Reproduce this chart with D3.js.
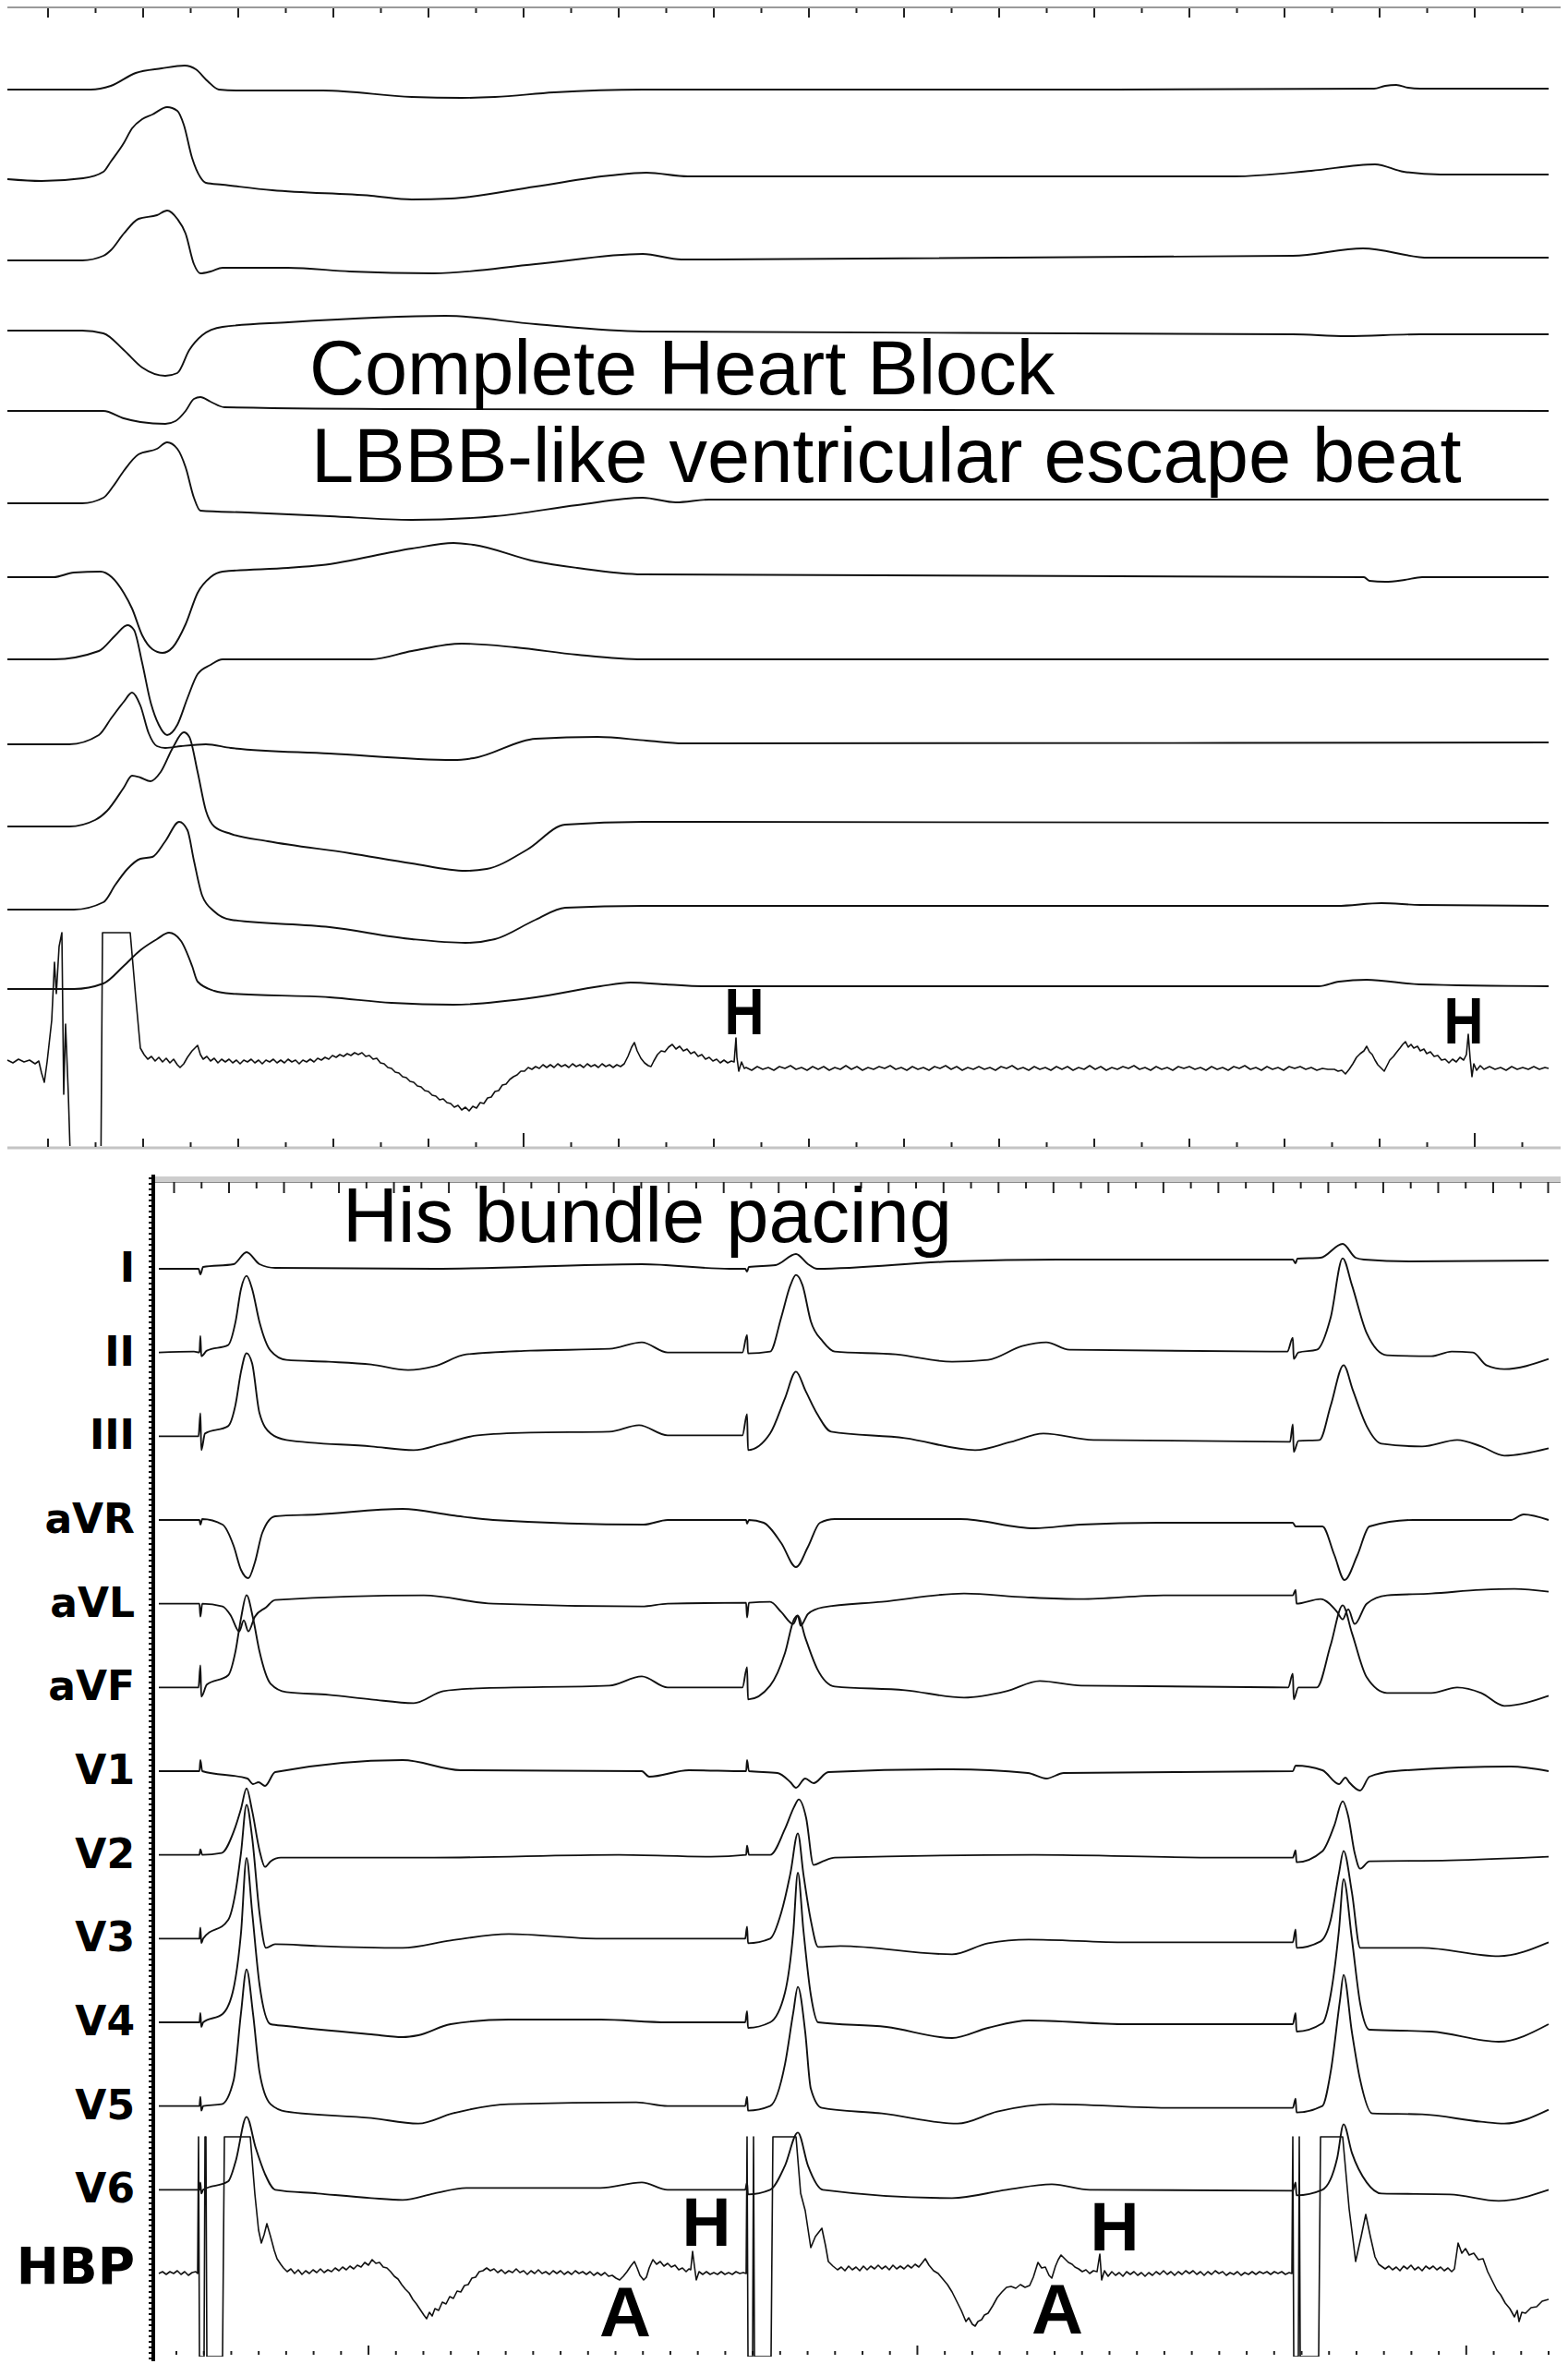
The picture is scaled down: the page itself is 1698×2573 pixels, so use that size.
<!DOCTYPE html>
<html><head><meta charset="utf-8">
<script src="https://cdn.jsdelivr.net/npm/d3@7/dist/d3.min.js"></script>
<style>
html,body{margin:0;padding:0;background:#fff;}
svg{display:block;}
</style></head><body>
<svg id="chart" width="1698" height="2573"></svg>
<script>
// ===================== DATA =====================
// time in ms (sweep units), amplitude in mV

// ---- Top panel: complete heart block, escape beat ----
const escapeLeads = ["I","II","III","aVR","aVL","aVF","V1","V2","V3","V4","V5","V6","His"];

const escI = [[0,0],[90,0],[112,0.04],[139,0.18],[167,0.23],[192,0.26],[204,0.22],[217,0.09],[229,0],[252,-0.01],[342,-0.01],[438,-0.08],[492,-0.09],[528,-0.08],[592,-0.03],[688,0],[1100,0],[1480,0.01],[1492,0.04],[1504,0.05],[1517,0.02],[1530,0.01],[1669,0.01]];
const escII = [[0,0],[37,-0.02],[82,0.01],[104,0.08],[112,0.19],[126,0.39],[135,0.55],[146,0.65],[157,0.70],[173,0.78],[184,0.74],[191,0.59],[200,0.23],[209,0.02],[215,-0.04],[233,-0.06],[287,-0.12],[394,-0.18],[438,-0.22],[480,-0.21],[572,-0.08],[653,0.04],[692,0.07],[737,0.03],[1328,0.03],[1412,0.09],[1481,0.16],[1512,0.08],[1552,0.05],[1669,0.05]];
const escIII = [[0,0],[81,0],[104,0.05],[112,0.11],[126,0.29],[142,0.45],[162,0.49],[173,0.54],[184,0.45],[193,0.29],[202,-0.04],[209,-0.14],[220,-0.12],[233,-0.08],[304,-0.08],[371,-0.12],[461,-0.14],[572,-0.04],[688,0.07],[730,0.01],[1392,0.05],[1468,0.13],[1539,0.03],[1669,0.03]];
const escaVR = [[0,0],[81,0],[104,-0.03],[126,-0.21],[146,-0.40],[171,-0.49],[184,-0.46],[197,-0.21],[211,-0.05],[233,0.04],[304,0.09],[474,0.16],[572,0.07],[688,-0.01],[1392,-0.04],[1450,-0.06],[1530,-0.04],[1669,-0.04]];
const escaVL = [[0,0],[104,0],[126,-0.08],[144,-0.12],[171,-0.14],[182,-0.11],[193,0],[202,0.13],[209,0.15],[220,0.10],[235,0.04],[438,0.02],[1669,0]];
const escaVF = [[0,0],[81,0],[104,0.06],[115,0.19],[126,0.35],[142,0.53],[162,0.59],[173,0.66],[184,0.59],[193,0.39],[202,0.06],[209,-0.08],[260,-0.10],[349,-0.14],[438,-0.18],[528,-0.14],[617,-0.02],[688,0.06],[724,0.01],[760,0.04],[1669,0.04]];
const escV1 = [[0,0],[50,0],[72,0.05],[101,0.06],[113,0],[126,-0.17],[135,-0.34],[146,-0.63],[157,-0.78],[168,-0.82],[179,-0.76],[193,-0.51],[206,-0.17],[220,0],[233,0.06],[304,0.10],[340,0.13],[438,0.31],[483,0.37],[505,0.35],[572,0.17],[617,0.10],[688,0.03],[1469,0],[1475,-0.04],[1492,-0.05],[1513,-0.03],[1532,0],[1669,0]];
const escV2 = [[0,0],[50,0],[99,0.09],[117,0.26],[130,0.37],[137,0.32],[146,-0.04],[155,-0.46],[164,-0.71],[173,-0.82],[184,-0.71],[195,-0.42],[206,-0.16],[220,-0.06],[233,0],[394,0],[438,0.09],[492,0.17],[550,0.13],[617,0.05],[688,0],[1669,0]];
const escV3 = [[0,0],[67,0],[99,0.10],[113,0.29],[126,0.46],[135,0.56],[144,0.42],[153,0.12],[162,-0.02],[171,-0.04],[188,-0.02],[215,0],[242,-0.04],[349,-0.10],[483,-0.17],[505,-0.15],[572,0.06],[639,0.08],[692,0.04],[732,0.01],[1669,0.02]];
const escV4 = [[0,0],[67,0],[95,0.07],[108,0.17],[126,0.42],[135,0.55],[144,0.53],[155,0.49],[166,0.59],[179,0.85],[191,1.02],[197,0.97],[206,0.59],[215,0.17],[224,0],[242,-0.08],[282,-0.16],[371,-0.29],[438,-0.40],[496,-0.48],[519,-0.46],[563,-0.25],[604,0.02],[688,0.05],[1669,0.04]];
const escV5 = [[0,0],[72,0],[104,0.08],[117,0.27],[130,0.44],[144,0.55],[157,0.57],[171,0.74],[186,0.95],[195,0.86],[202,0.53],[211,0.15],[224,-0.02],[242,-0.11],[349,-0.19],[438,-0.32],[496,-0.36],[528,-0.32],[572,-0.11],[604,0.02],[688,0.04],[1440,0.04],[1488,0.07],[1530,0.05],[1669,0.04]];
const escV6 = [[0,0],[72,0],[104,0.06],[126,0.25],[144,0.42],[162,0.54],[175,0.61],[188,0.52],[200,0.25],[206,0.08],[224,-0.02],[242,-0.05],[349,-0.09],[416,-0.15],[483,-0.17],[572,-0.09],[642,0.03],[675,0.07],[713,0.05],[752,0.03],[1420,0.03],[1442,0.08],[1472,0.10],[1529,0.05],[1669,0.03]];
const escHis = [[0,0.02],[6,-0.01],[12,0.03],[18,0],[24,0.02],[30,-0.02],[34,0.01],[37,-0.12],[40,-0.22],[43,0],[48,0.45],[51,1.08],[53,0.74],[56,1.25],[59,1.40],[61,-0.35],[63,0.41],[66,-0.35],[68,-1.0],[69,-1.5],[101,-1.5],[103,1.40],[133,1.40],[139,0.70],[144,0.15],[148,0.08],
[152,0.03],[156,0.06],[160,0.01],[164,0.05],[168,0],[172,0.04],[176,-0.01],[180,0.03],[184,-0.03],[187,-0.06],[191,-0.02],[195,0.05],[200,0.12],[206,0.18],[209,0.08],[212,0.03],[216,0.06],[220,0.01],[224,0.04],[228,-0.01],[232,0.03],[236,0],[240,0.03],[244,-0.01],[248,0.02],[252,-0.02],[256,0.02],[260,0],[264,0.03],[268,-0.01],[272,0.02],[276,-0.02],[280,0.02],[284,0],[288,0.03],[292,-0.01],[296,0.02],[300,-0.01],[304,0.03],[308,0],[312,0.02],[316,-0.02],[320,0.02],[324,0],[328,0.03],[332,0],[336,0.04],[340,0.02],[344,0.05],[348,0.03],[352,0.07],[356,0.05],[360,0.08],[364,0.06],[368,0.09],[372,0.07],[376,0.10],[380,0.08],[384,0.10],[388,0.06],[392,0.07],[396,0.03],[400,0.04],[404,-0.01],[408,-0.02],[412,-0.06],[416,-0.07],[420,-0.11],[424,-0.12],[428,-0.16],[432,-0.17],[436,-0.21],[440,-0.22],[444,-0.26],[448,-0.27],[452,-0.31],[456,-0.32],[460,-0.36],[464,-0.37],[468,-0.41],[472,-0.40],[476,-0.44],[480,-0.45],[484,-0.49],[488,-0.47],[492,-0.52],[496,-0.49],[500,-0.53],[504,-0.48],[508,-0.50],[512,-0.44],[516,-0.45],[520,-0.39],[524,-0.38],[528,-0.32],[532,-0.31],[536,-0.25],[540,-0.24],[544,-0.19],[548,-0.16],[552,-0.14],[556,-0.10],[560,-0.10],[564,-0.06],[568,-0.08],[572,-0.05],[576,-0.07],[580,-0.03],[584,-0.06],[588,-0.03],[592,-0.06],[596,-0.02],[600,-0.05],[604,-0.03],[608,-0.06],[612,-0.02],[616,-0.05],[620,-0.03],[624,-0.06],[628,-0.02],[632,-0.05],[636,-0.03],[640,-0.06],[644,-0.02],[648,-0.05],[652,-0.03],[656,-0.06],[660,-0.03],[664,-0.05],[668,-0.02],[672,0.06],[676,0.16],[679,0.21],[682,0.12],[686,0.04],[690,-0.01],[694,-0.04],[697,-0.05],[700,0.01],[704,0.08],[708,0.12],[712,0.11],[716,0.16],[720,0.19],[724,0.14],[728,0.17],[732,0.12],[736,0.14],[740,0.09],[744,0.11],[748,0.06],[752,0.08],[756,0.03],[760,0.05],[764,0.01],[768,0.03],[772,-0.01],[776,0.02],[780,-0.01],[784,0.01],[787,0],[789,0.26],[790,0.05],[792,-0.10],[795,0],[798,-0.07],
[800,-0.06],[806,-0.09],[812,-0.05],[818,-0.08],[824,-0.06],[830,-0.09],[836,-0.05],[842,-0.07],[848,-0.04],[854,-0.08],[860,-0.06],[866,-0.09],[872,-0.05],[878,-0.08],[884,-0.05],[890,-0.09],[896,-0.06],[902,-0.08],[908,-0.04],[914,-0.08],[920,-0.05],[926,-0.09],[932,-0.06],[938,-0.08],[944,-0.05],[950,-0.07],[956,-0.04],[962,-0.08],[968,-0.06],[974,-0.09],[980,-0.05],[986,-0.08],[992,-0.06],[998,-0.09],[1004,-0.05],[1010,-0.07],[1016,-0.04],[1022,-0.08],[1028,-0.05],[1034,-0.09],[1040,-0.06],[1046,-0.08],[1052,-0.05],[1058,-0.08],[1064,-0.06],[1070,-0.09],[1076,-0.05],[1082,-0.07],[1088,-0.04],[1094,-0.08],[1100,-0.06],[1106,-0.09],[1112,-0.05],[1118,-0.08],[1124,-0.06],[1130,-0.09],[1136,-0.05],[1142,-0.08],[1148,-0.05],[1154,-0.09],[1160,-0.06],[1166,-0.08],[1172,-0.04],[1178,-0.08],[1184,-0.05],[1190,-0.09],[1196,-0.06],[1202,-0.08],[1208,-0.05],[1214,-0.07],[1220,-0.04],[1226,-0.08],[1232,-0.06],[1238,-0.09],[1244,-0.05],[1250,-0.08],[1256,-0.06],[1262,-0.09],[1268,-0.05],[1274,-0.07],[1280,-0.05],[1286,-0.08],[1292,-0.06],[1298,-0.09],[1304,-0.05],[1310,-0.08],[1316,-0.06],[1322,-0.09],[1328,-0.05],[1334,-0.07],[1340,-0.04],[1346,-0.08],[1352,-0.06],[1358,-0.09],[1364,-0.05],[1370,-0.08],[1376,-0.06],[1382,-0.09],[1388,-0.05],[1394,-0.07],[1400,-0.05],[1406,-0.08],[1412,-0.06],[1418,-0.09],[1424,-0.07],[1430,-0.08],
[1437,-0.08],[1441,-0.10],[1445,-0.09],[1449,-0.13],[1453,-0.08],[1457,-0.02],[1461,0.05],[1465,0.09],[1469,0.12],[1472,0.17],[1475,0.11],[1478,0.08],[1481,0.02],[1484,-0.03],[1487,-0.06],[1491,-0.10],[1494,-0.04],[1497,0.02],[1501,0.06],[1504,0.10],[1508,0.15],[1511,0.19],[1514,0.22],[1517,0.16],[1520,0.19],[1523,0.15],[1527,0.17],[1530,0.12],[1534,0.14],[1537,0.09],[1541,0.11],[1545,0.06],[1549,0.07],[1553,0.02],[1557,0.03],[1561,-0.01],[1565,0.03],[1569,0],[1573,0.05],[1577,0.02],[1580,0.08],[1582,0.30],[1584,0.04],[1586,-0.16],[1588,-0.02],[1591,-0.09],[1595,-0.04],[1599,-0.08],[1605,-0.05],[1611,-0.08],[1617,-0.06],[1623,-0.09],[1629,-0.05],[1635,-0.08],[1641,-0.06],[1647,-0.08],[1653,-0.05],[1659,-0.08],[1665,-0.06],[1669,-0.07]];

// ---- Bottom panel: His bundle pacing ----
const pacedLeads = ["I","II","III","aVR","aVL","aVF","V1","V2","V3","V4","V5","V6","HBP"];

const pacI = [[2,0],[45,0],[47,-0.06],[50,0.02],[83,0.05],[97,0.18],[111,0.05],[128,0.01],[300,0],[525,0.05],[620,0],[637,0],[639,-0.03],[641,0.02],[670,0.04],[692,0.16],[705,0.05],[715,0],[861,0.08],[975,0.10],[1230,0.10],[1233,0.06],[1235,0.11],[1260,0.12],[1284,0.27],[1298,0.12],[1307,0.10],[1357,0.08],[1507,0.09]];
const pacII = [[2,0],[40,0.01],[46,0],[47,0.18],[48,-0.04],[54,0.02],[77,0.08],[85,0.33],[91,0.69],[97,0.83],[103,0.69],[111,0.33],[123,0.02],[140,-0.08],[186,-0.10],[232,-0.13],[272,-0.19],[300,-0.15],[335,-0.02],[404,0.02],[490,0.04],[525,0.11],[553,0],[634,0],[639,0.19],[640,-0.01],[664,0.01],[676,0.38],[686,0.73],[692,0.84],[699,0.73],[708,0.34],[721,0.12],[734,0.01],[800,-0.02],[861,-0.10],[900,-0.08],[937,0.07],[963,0.11],[988,0.03],[1224,0.01],[1230,0.16],[1231,-0.07],[1236,0],[1256,0.03],[1271,0.38],[1284,1.02],[1294,0.73],[1310,0.21],[1332,-0.03],[1380,-0.04],[1402,0.01],[1425,0],[1440,-0.14],[1459,-0.18],[1507,-0.07]];
const pacIII = [[2,0],[45,0],[47,0.25],[48,-0.15],[52,0.03],[77,0.11],[85,0.34],[91,0.70],[97,0.90],[103,0.79],[111,0.25],[123,0.03],[140,-0.04],[232,-0.11],[278,-0.15],[310,-0.08],[347,0.01],[404,0.04],[490,0.05],[522,0.12],[553,0.01],[634,0.01],[639,0.24],[640,-0.15],[664,0.03],[680,0.41],[692,0.70],[702,0.50],[715,0.24],[730,0.05],[810,-0.02],[886,-0.15],[925,-0.06],[960,0.03],[1014,-0.04],[1227,-0.06],[1230,0.13],[1231,-0.17],[1236,-0.05],[1259,-0.04],[1271,0.33],[1285,0.77],[1295,0.50],[1310,0.11],[1326,-0.08],[1370,-0.11],[1408,-0.04],[1434,-0.11],[1459,-0.21],[1507,-0.13]];
const pacaVR = [[2,0],[46,0],[47,-0.05],[49,0.01],[71,-0.05],[83,-0.28],[91,-0.54],[99,-0.63],[106,-0.46],[114,-0.14],[128,0.04],[174,0.06],[266,0.12],[320,0.05],[364,0],[527,-0.05],[553,0],[638,0],[639,-0.04],[641,0],[657,-0.03],[676,-0.25],[692,-0.51],[705,-0.29],[718,-0.03],[734,0.01],[870,0.01],[950,-0.09],[1000,-0.05],[1084,-0.03],[1230,-0.03],[1233,-0.07],[1262,-0.07],[1275,-0.38],[1286,-0.65],[1300,-0.38],[1313,-0.07],[1360,0],[1466,0],[1480,0.06],[1507,0]];
const pacaVL = [[2,0],[46,0],[47,-0.14],[49,0],[71,-0.03],[80,-0.13],[89,-0.30],[94,-0.18],[99,-0.30],[106,-0.14],[118,-0.04],[128,0.04],[289,0.09],[364,0],[525,-0.03],[553,0],[638,0.01],[639,-0.15],[641,0.01],[664,0.02],[676,-0.09],[689,-0.22],[694,-0.13],[697,-0.24],[705,-0.11],[721,-0.04],[785,0.02],[874,0.11],[940,0.07],[1000,0.05],[1090,0.09],[1230,0.09],[1233,0.15],[1234,0.0],[1260,0.05],[1278,-0.09],[1284,-0.17],[1290,-0.06],[1297,-0.22],[1310,0],[1332,0.09],[1380,0.11],[1434,0.15],[1470,0.16],[1507,0.13]];
const pacaVF = [[2,0],[45,0],[47,0.24],[48,-0.10],[54,0.03],[77,0.13],[85,0.39],[91,0.75],[97,1.00],[104,0.75],[111,0.39],[123,0.04],[140,-0.05],[186,-0.08],[232,-0.13],[278,-0.17],[310,-0.04],[347,-0.01],[490,0.02],[525,0.12],[553,0],[634,0],[639,0.22],[640,-0.13],[664,0.02],[680,0.37],[690,0.74],[694,0.78],[702,0.54],[715,0.20],[734,0.01],[810,-0.03],[874,-0.11],[920,-0.04],[956,0.07],[1001,0.02],[1225,0],[1230,0.15],[1231,-0.13],[1236,0],[1256,0],[1271,0.46],[1284,0.89],[1294,0.59],[1310,0.11],[1332,-0.06],[1380,-0.06],[1408,0],[1434,-0.06],[1459,-0.20],[1507,-0.09]];
const pacV1 = [[2,0],[46,0],[47,0.12],[49,0],[98,-0.08],[104,-0.14],[110,-0.12],[117,-0.16],[128,-0.01],[266,0.12],[329,0.01],[525,0],[533,-0.06],[576,0.01],[638,0],[639,0.12],[641,0],[672,-0.02],[686,-0.12],[692,-0.18],[702,-0.08],[711,-0.13],[727,-0.01],[861,0.02],[943,-0.02],[963,-0.08],[982,-0.02],[1230,0],[1233,0.06],[1262,0.01],[1280,-0.14],[1287,-0.07],[1291,-0.12],[1303,-0.21],[1313,-0.06],[1340,0],[1466,0.05],[1507,0]];
const pacV2 = [[2,0],[46,0],[47,0.06],[49,0],[70,0.02],[83,0.25],[91,0.50],[97,0.72],[103,0.48],[111,0.05],[117,-0.13],[123,-0.07],[134,-0.03],[300,-0.03],[500,0],[600,-0.02],[638,0],[639,0.10],[641,0],[664,0],[680,0.28],[690,0.52],[695,0.60],[703,0.40],[711,-0.11],[721,-0.07],[734,-0.03],[950,0],[1154,-0.03],[1230,-0.03],[1233,0.05],[1234,-0.08],[1262,0.04],[1275,0.32],[1284,0.58],[1290,0.42],[1297,0.02],[1303,-0.15],[1313,-0.07],[1400,-0.06],[1507,-0.02]];
const pacV3 = [[2,0],[46,0],[47,0.12],[48,-0.05],[50,0],[77,0.20],[85,0.50],[91,0.93],[97,1.45],[103,1.10],[111,0.28],[118,-0.10],[128,-0.06],[174,-0.08],[266,-0.10],[318,-0.02],[381,0.05],[480,0],[637,0],[639,0.13],[640,-0.05],[664,0],[676,0.28],[686,0.71],[694,1.14],[700,0.70],[708,0.20],[716,-0.09],[740,-0.08],[861,-0.17],[900,-0.05],[944,-0.01],[1050,-0.04],[1230,-0.04],[1233,0.10],[1234,-0.10],[1260,-0.03],[1271,0.20],[1280,0.71],[1285,0.95],[1294,0.50],[1303,-0.10],[1370,-0.10],[1453,-0.19],[1507,-0.04]];
const pacV4 = [[2,0],[46,0],[47,0.10],[48,-0.05],[50,0],[71,0.09],[83,0.37],[91,0.97],[97,1.78],[103,1.20],[111,0.41],[123,-0.02],[140,-0.04],[232,-0.13],[266,-0.16],[283,-0.14],[318,-0.02],[381,0.03],[480,0.03],[553,0],[637,0],[639,0.12],[640,-0.06],[664,0],[680,0.32],[689,0.97],[694,1.62],[700,1.00],[708,0.30],[716,0],[790,-0.05],[861,-0.17],[900,-0.06],[944,0.02],[1050,-0.02],[1230,-0.02],[1233,0.10],[1234,-0.10],[1262,-0.01],[1271,0.30],[1280,1.00],[1285,1.55],[1294,0.90],[1303,0.20],[1313,-0.08],[1380,-0.10],[1453,-0.21],[1507,-0.02]];
const pacV5 = [[2,0],[46,0],[47,0.10],[48,-0.05],[50,0],[70,0.02],[83,0.28],[91,1.01],[97,1.48],[104,1.00],[111,0.37],[123,0.02],[140,-0.06],[232,-0.13],[283,-0.19],[320,-0.08],[381,0.02],[519,0.04],[553,0],[637,0],[639,0.10],[640,-0.05],[664,0],[680,0.45],[689,1.01],[694,1.29],[702,0.80],[708,0.19],[720,-0.02],[785,-0.08],[867,-0.19],[910,-0.06],[969,0.02],[1100,-0.02],[1230,-0.02],[1233,0.08],[1234,-0.07],[1262,0],[1271,0.37],[1281,1.14],[1285,1.42],[1294,0.80],[1303,0.28],[1316,-0.08],[1370,-0.09],[1434,-0.17],[1459,-0.19],[1507,-0.04]];
const pacV6 = [[2,0],[46,0],[47,0.08],[48,-0.04],[50,0],[77,0.09],[85,0.30],[97,0.79],[107,0.45],[117,0.17],[128,0],[174,-0.04],[232,-0.09],[266,-0.11],[300,-0.04],[335,0.02],[480,0.02],[525,0.08],[553,0],[637,0],[639,0.08],[640,-0.05],[664,0],[680,0.26],[694,0.62],[705,0.26],[721,0],[861,-0.09],[920,0],[969,0.06],[1010,0],[1230,-0.01],[1233,0.08],[1234,-0.06],[1262,0],[1278,0.34],[1285,0.71],[1294,0.40],[1310,0.08],[1326,-0.04],[1400,-0.05],[1453,-0.12],[1507,0]];
const pacHBP = [[2,0],[6,0.02],[10,-0.01],[14,0.02],[18,0],[22,0.03],[26,-0.01],[30,0.02],[34,-0.02],[38,0.01],[42,0.02],[44,0],
[45,1.48],[46,-0.9],[51,-0.9],[52,1.48],[53,1.48],[54,-0.9],[71,-0.9],[73,1.48],[101,1.48],
[106,0.86],[110,0.47],[113,0.33],[116,0.42],[119,0.54],[123,0.40],[127,0.25],[130,0.16],[134,0.10],[137,0.06],
[141,0.02],[145,0.05],[149,0],[153,0.04],[157,-0.01],[161,0.03],[165,0],[169,0.04],[173,0.01],[177,0.05],[181,0.01],[185,0.04],[189,0.02],[193,0.06],[197,0.03],[201,0.07],[205,0.04],[209,0.08],[213,0.05],[217,0.09],[221,0.07],[225,0.12],[229,0.09],[233,0.15],[237,0.11],[241,0.12],[245,0.07],[249,0.06],[253,0.02],[257,-0.03],[261,-0.06],[265,-0.12],[269,-0.17],[273,-0.21],[277,-0.28],[281,-0.33],[285,-0.39],[289,-0.45],[292,-0.49],[295,-0.42],[298,-0.46],[301,-0.38],[305,-0.40],[309,-0.31],[313,-0.33],[317,-0.25],[321,-0.27],[325,-0.19],[329,-0.20],[333,-0.13],[337,-0.12],[341,-0.05],[345,-0.04],[349,0.02],[353,0.03],[357,0.06],[361,0.03],[365,0.05],[369,0.01],[373,0.04],[377,0],[381,0.03],[385,0.01],[389,0.05],[393,0.01],[397,0.03],[401,-0.01],[405,0.03],[409,0],[413,0.04],[417,0],[421,0.02],[425,-0.01],[429,0.03],[433,0],[437,0.03],[441,-0.01],[445,0.02],[449,-0.01],[453,0.03],[457,0],[461,0.02],[465,-0.01],[469,0.02],[473,-0.02],[477,0.01],[481,-0.02],[485,0.01],[489,-0.03],[493,-0.02],[497,-0.05],[501,-0.07],[505,-0.03],[509,0.02],[513,0.08],[517,0.13],[520,0.06],[523,-0.02],[527,-0.07],[530,-0.04],[533,0.06],[537,0.15],[541,0.10],[545,0.13],[549,0.08],[553,0.11],[557,0.07],[561,0.09],[565,0.04],[569,0.06],[573,0.02],[576,0.05],[578,0.04],[580,0.24],[582,0.08],[584,-0.07],[587,0.02],[591,-0.01],[595,0.02],[599,-0.01],[603,0.01],[607,-0.01],[611,0.02],[615,-0.01],[619,0.01],[623,-0.01],[627,0.02],[631,0],[635,0.01],[638,0],
[639,1.48],[640,-0.9],[645,-0.9],[646,1.48],[647,-0.9],[665,-0.9],[667,1.48],[692,1.48],
[697,0.87],[702,0.68],[708,0.28],[713,0.40],[720,0.49],[724,0.30],[727,0.13],[732,0.08],[737,0.04],
[741,0.07],[745,0.03],[749,0.08],[753,0.04],[757,0.07],[761,0.03],[765,0.08],[769,0.04],[773,0.08],[777,0.05],[781,0.09],[785,0.05],[789,0.08],[793,0.04],[797,0.09],[801,0.05],[805,0.08],[809,0.05],[813,0.09],[817,0.06],[821,0.10],[825,0.07],[829,0.12],[832,0.16],[836,0.09],[841,0.03],[846,0],[851,-0.06],[856,-0.12],[861,-0.20],[866,-0.30],[871,-0.40],[876,-0.52],[879,-0.48],[883,-0.55],[886,-0.57],[889,-0.52],[893,-0.50],[896,-0.45],[900,-0.43],[905,-0.35],[910,-0.26],[915,-0.20],[920,-0.15],[925,-0.14],[930,-0.16],[935,-0.12],[940,-0.15],[945,-0.13],[949,-0.04],[954,0.12],[958,0.06],[962,0.07],[966,-0.02],[969,-0.05],[973,0.08],[976,0.15],[979,0.20],[983,0.16],[987,0.12],[991,0.10],[994,0.07],[998,0.05],[1002,0.02],[1006,0.04],[1010,0],[1014,0.03],[1018,0.02],[1021,0.21],[1023,-0.07],
[1026,0.03],[1030,-0.03],[1034,0.02],[1038,-0.02],[1042,0.01],[1046,-0.03],[1050,0.02],[1054,-0.01],[1058,0.02],[1062,-0.02],[1066,0.01],[1070,-0.03],[1074,0.01],[1078,-0.02],[1082,0.02],[1086,-0.01],[1090,0.03],[1094,-0.01],[1098,0.02],[1102,-0.02],[1106,0.02],[1110,-0.01],[1114,0.03],[1118,0],[1122,0.03],[1126,-0.01],[1130,0.02],[1134,-0.02],[1138,0.02],[1142,-0.01],[1146,0.03],[1150,0],[1154,0.02],[1158,-0.02],[1162,0.01],[1166,-0.01],[1170,0.02],[1174,-0.02],[1178,0.01],[1182,-0.01],[1186,0.02],[1190,-0.01],[1194,0.02],[1198,0],[1202,0.02],[1206,-0.01],[1210,0.02],[1214,0],[1218,0.02],[1222,-0.01],[1226,0.01],
[1229,0],[1230,1.48],[1231,-0.9],[1236,-0.9],[1237,1.48],[1238,-0.9],[1258,-0.9],[1260,1.48],[1284,1.48],
[1291,0.70],[1296,0.30],[1298,0.13],[1304,0.40],[1309,0.64],[1314,0.40],[1319,0.18],[1323,0.10],[1330,0.05],
[1334,0.08],[1338,0.04],[1342,0.07],[1346,0.03],[1350,0.08],[1354,0.05],[1358,0.09],[1362,0.04],[1366,0.07],[1370,0.03],[1374,0.08],[1378,0.05],[1382,0.08],[1386,0.04],[1390,0.07],[1394,0.03],[1398,0.06],[1402,0.02],[1405,0.05],
[1409,0.33],[1413,0.22],[1417,0.27],[1421,0.20],[1426,0.22],[1431,0.15],[1436,0.16],[1441,0.02],[1446,-0.08],[1451,-0.18],[1455,-0.23],[1460,-0.32],[1465,-0.38],[1470,-0.47],[1473,-0.40],[1475,-0.52],[1478,-0.42],[1482,-0.43],[1488,-0.37],[1494,-0.36],[1500,-0.30],[1507,-0.28]];

// annotation marks (time of the labelled deflection)
const escapeHMarks = [789, 1582];
const pacedHMarks = [580, 1021];
const pacedAMarks = [512, 962];

// tick grids (ms)
const topTickStart = 44, topTickStep = 51.5, topTickCount = 32;
const botTickStart = 18.5, botTickStep = 29.76, botTickCount = 51;
const botDotStart = 21, botDotStep = 29.72, botDotCount = 51;

// ===================== DRAWING =====================
const escapeSeries = [escI, escII, escIII, escaVR, escaVL, escaVF, escV1, escV2, escV3, escV4, escV5, escV6, escHis];
const pacedSeries = [pacI, pacII, pacIII, pacaVR, pacaVL, pacaVF, pacV1, pacV2, pacV3, pacV4, pacV5, pacV6, pacHBP];

const svg = d3.select("#chart");
const W = 1698;
const INK = "#111";

// scales
const xTop = d3.scaleLinear().domain([0, 1669]).range([8, 1677]);
const xBot = d3.scaleLinear().domain([0, 1507]).range([170, 1677]);
const amp = d3.scaleLinear().domain([0, 1]).range([0, -100]); // 100 px per mV
const topRowY = [97, 194, 282, 358, 445, 545, 625, 714, 806, 895, 985, 1071, 1150]; // layout: row baselines
const yTopRow = d3.scaleOrdinal().domain(escapeLeads).range(topRowY);
const yBotRow = d3.scalePoint().domain(pacedLeads).range([1374, 2462]);

const defs = svg.append("defs");
defs.append("clipPath").attr("id","clipTop").append("rect").attr("x",0).attr("y",9).attr("width",W).attr("height",1232);
defs.append("clipPath").attr("id","clipBot").append("rect").attr("x",167).attr("y",1280).attr("width",W).attr("height",1272);

// ---------- top panel axes ----------
const topAx = svg.append("g");
topAx.append("line").attr("x1",8).attr("x2",1690).attr("y1",8).attr("y2",8).attr("stroke","#9a9a9a").attr("stroke-width",2);
topAx.append("line").attr("x1",8).attr("x2",1690).attr("y1",1243).attr("y2",1243).attr("stroke","#c4c4c4").attr("stroke-width",3);
const topTicks = d3.range(topTickCount).map(k => ({t: topTickStart + k*topTickStep, k}));
topAx.selectAll(".tt").data(topTicks).join("line")
  .attr("x1", d=>xTop(d.t)).attr("x2", d=>xTop(d.t))
  .attr("y1", 9).attr("y2", d=> d.k%2===0 ? 19 : 14)
  .attr("stroke","#222").attr("stroke-width",2);
topAx.selectAll(".tb").data(topTicks).join("line")
  .attr("x1", d=>xTop(d.t)).attr("x2", d=>xTop(d.t))
  .attr("y1", 1242).attr("y2", d=> d.k%20===10 ? 1227 : (d.k%2===0 ? 1233 : 1237))
  .attr("stroke","#222").attr("stroke-width",2);

// ---------- bottom panel axes ----------
const botAx = svg.append("g");
botAx.append("line").attr("x1",166).attr("x2",1690).attr("y1",1277).attr("y2",1277).attr("stroke","#cdcdcd").attr("stroke-width",6);
botAx.append("line").attr("x1",166).attr("x2",1690).attr("y1",1280.5).attr("y2",1280.5).attr("stroke","#8a8a8a").attr("stroke-width",1);
const botTicks = d3.range(botTickCount).map(k => ({t: botTickStart + k*botTickStep, k}));
botAx.selectAll(".bt").data(botTicks.filter(d=>xBot(d.t)<1690)).join("line")
  .attr("x1", d=>xBot(d.t)).attr("x2", d=>xBot(d.t))
  .attr("y1", 1280).attr("y2", d=> d.k%2===0 ? 1292 : 1287)
  .attr("stroke","#222").attr("stroke-width",2);
const botDots = d3.range(botDotCount).map(k => ({t: botDotStart + k*botDotStep, k}));
botAx.selectAll(".bd").data(botDots.filter(d=>xBot(d.t)<1690)).join("line")
  .attr("x1", d=>xBot(d.t)).attr("x2", d=>xBot(d.t))
  .attr("y1", d=> (d.k-7)%20===0 ? 2540 : 2546).attr("y2", 2550)
  .attr("stroke","#222").attr("stroke-width",2);
// left ruler
botAx.append("line").attr("x1",166).attr("x2",166).attr("y1",1272).attr("y2",2557).attr("stroke","#000").attr("stroke-width",4);
botAx.selectAll(".rl").data(d3.range(1276, 2556, 6)).join("line")
  .attr("x1",161).attr("x2",165).attr("y1",d=>d).attr("y2",d=>d)
  .attr("stroke","#000").attr("stroke-width",2);

// ---------- traces ----------
function lineGen(x, y0, curve){
  return d3.line().x(d=>x(d[0])).y(d=>y0 + amp(d[1])).curve(curve);
}
const gTop = svg.append("g").attr("clip-path","url(#clipTop)");
escapeSeries.forEach((s,i)=>{
  const name = escapeLeads[i];
  const isHis = name === "His";
  gTop.append("path").datum(s)
    .attr("d", lineGen(xTop, yTopRow(name), isHis ? d3.curveLinear : d3.curveMonotoneX))
    .attr("fill","none").attr("stroke",INK).attr("stroke-width", isHis ? 1.6 : 1.9)
    .attr("stroke-linejoin","round");
});
const gBot = svg.append("g").attr("clip-path","url(#clipBot)");
pacedSeries.forEach((s,i)=>{
  const name = pacedLeads[i];
  const isHis = name === "HBP";
  gBot.append("path").datum(s)
    .attr("d", lineGen(xBot, yBotRow(name), isHis ? d3.curveLinear : d3.curveMonotoneX))
    .attr("fill","none").attr("stroke",INK).attr("stroke-width", isHis ? 1.6 : 1.9)
    .attr("stroke-linejoin","round");
});

// ---------- lead labels ----------
svg.append("g").selectAll("text").data(pacedLeads).join("text")
  .attr("x",146).attr("y", d=> yBotRow(d) + (d==="HBP" ? 11 : 14))
  .attr("text-anchor","end")
  .attr("font-family","'DejaVu Sans', sans-serif").attr("font-weight","bold")
  .attr("font-size", d=> d==="HBP" ? 55 : 44).attr("fill","#000")
  .text(d=>d);

// ---------- titles ----------
const titleFont = "'Liberation Sans', Arial, sans-serif";
svg.append("text").attr("x",335).attr("y",427).attr("font-family",titleFont).attr("font-size",83).attr("fill","#000").text("Complete Heart Block");
svg.append("text").attr("x",337).attr("y",522).attr("font-family",titleFont).attr("font-size",83).attr("fill","#000").text("LBBB-like ventricular escape beat");
svg.append("text").attr("x",371).attr("y",1345).attr("font-family",titleFont).attr("font-size",83).attr("fill","#000").text("His bundle pacing");

// ---------- H / A annotations ----------
const ann = svg.append("g").attr("font-family",titleFont).attr("font-weight","bold").attr("fill","#000").attr("text-anchor","middle");
const hTopOffset = [9, -5], hBotOffset = [15, 16], aBotOffset = [-5, 13];
ann.selectAll(".h1").data(escapeHMarks).join("text")
  .attr("x", (d,i)=>xTop(d)+hTopOffset[i]).attr("y", (d,i)=> i===0 ? 1120 : 1130)
  .attr("font-size",70).attr("textLength",43).attr("lengthAdjust","spacingAndGlyphs").text("H");
ann.selectAll(".h2").data(pacedHMarks).join("text")
  .attr("x", (d,i)=> xBot(d) + hBotOffset[i]).attr("y", (d,i)=> i===0 ? 2432 : 2437)
  .attr("font-size",74).attr("textLength",53).attr("lengthAdjust","spacingAndGlyphs").text("H");
ann.selectAll(".a2").data(pacedAMarks).join("text")
  .attr("x", (d,i)=> xBot(d) + aBotOffset[i]).attr("y", (d,i)=> i===0 ? 2530 : 2527)
  .attr("font-size",76).attr("textLength",56).attr("lengthAdjust","spacingAndGlyphs").text("A");
</script>
</body></html>
